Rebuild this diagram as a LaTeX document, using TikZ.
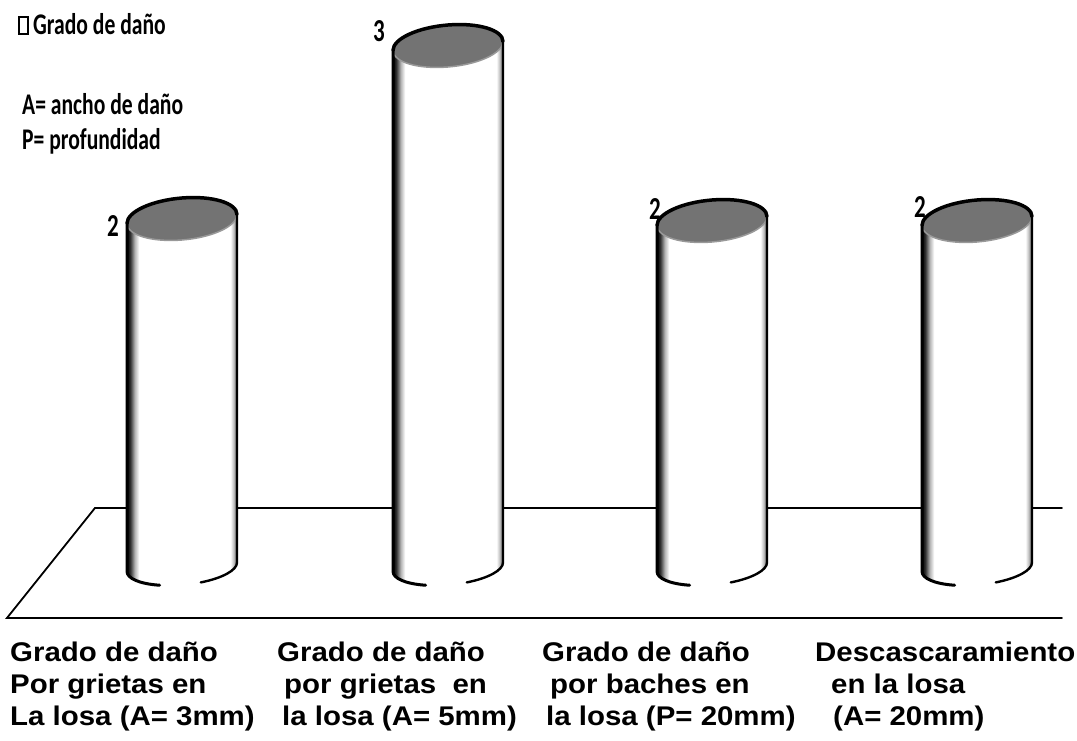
\documentclass[tikz,border=0pt]{standalone}
\usepackage{fontspec}
\setmainfont{Liberation Sans}
\newfontfamily\calfont[FakeStretch=0.72]{Carlito}
\newfontfamily\widefont[FakeStretch=1.09]{Liberation Sans}
\pgfdeclarehorizontalshading{cylbody}{100bp}{color(0bp)=(black); color(25bp)=(black); color(26.5bp)=(black!80); color(28.5bp)=(black!30); color(30.5bp)=(white); color(72bp)=(white); color(73.5bp)=(black!25); color(75bp)=(black!70); color(100bp)=(black!70)}
% #1 left x, #2 right x, #3 top centre y
\newcommand\drawcyl[3]{%
  \pgfmathsetmacro\cx{(#1+#2)/2}%
  \pgfmathsetmacro\rx{(#2-#1)/2}%
  \begin{scope}[shift={(\cx,0)}, yslant=0.08]
    \shade[shading=cylbody] (-\rx,#3) -- (-\rx,174)
      arc[start angle=180, end angle=360, x radius=\rx, y radius=18] -- (\rx,#3) -- cycle;
    \fill[topgray] (0,#3) ellipse[x radius=\rx, y radius=21];
    \draw[black!40, line width=1.5pt] (-\rx,#3) arc[start angle=180, end angle=360, x radius=\rx, y radius=21];
    \draw[cylrim] (-\rx,#3) arc[start angle=180, end angle=0, x radius=\rx, y radius=21];
    \draw[cylleft] (-\rx,#3) -- (-\rx,174)
      arc[start angle=180, end angle=246, x radius=\rx, y radius=18];
    \draw[cylright] (\rx,#3) -- (\rx,174)
      arc[start angle=360, end angle=290, x radius=\rx, y radius=18];
  \end{scope}}
\begin{document}
\begin{tikzpicture}[x=1pt,y=1pt,
  catlab/.style={font=\widefont\bfseries\fontsize{27}{30}\selectfont, inner sep=0pt, anchor=base west},
  leg/.style={font=\calfont\bfseries\fontsize{30}{30}\selectfont, inner sep=0pt, anchor=base west},
  num/.style={font=\calfont\bfseries\fontsize{32}{30}\selectfont, inner sep=0pt, anchor=base west},
  floorline/.style={line width=1.8pt, line cap=round},
  topgray/.style={fill=black!55},
  cylrim/.style={line width=3.5pt, line cap=round},
  cylleft/.style={line width=3pt, line cap=round},
  cylright/.style={line width=2.4pt, line cap=round}]
\useasboundingbox (0,0) rectangle (1077,741);
% floor
\coordinate (fbl) at (95,233);
\coordinate (fbr) at (1062,233);
\coordinate (ffl) at (7,123);
\coordinate (ffr) at (1062,123);
\draw[floorline] (fbr) -- (fbl) -- (ffl) -- (ffr);
% cylinders
\drawcyl{127}{237}{522}
\drawcyl{393}{503}{695}
\drawcyl{657}{767}{520}
\drawcyl{922}{1032}{520}
% values
\node[num] (v1) at (107,504) {2};
\node[num] (v2) at (373,699) {3};
\node[num] (v3) at (649,521) {2};
\node[num] (v4) at (914,523) {2};
% legend
\draw[line width=1.3pt] (19,707) rectangle (28,724);
\node[leg] (lg) at (33,706) {Grado de daño};
\node[leg] (la) at (22,626) {A= ancho de daño};
\node[leg] (lp) at (22,591) {P= profundidad};
% category labels
\node[catlab] (c1a) at (10,79) {Grado de daño};
\node[catlab] (c1b) at (10,47) {Por grietas en};
\node[catlab] (c1c) at (10,15) {La losa (A= 3mm)};
\node[catlab] (c2a) at (277,79) {Grado de daño};
\node[catlab] (c2b) at (284,47) {por grietas\ \ en};
\node[catlab] (c2c) at (282,15) {la losa (A= 5mm)};
\node[catlab] (c3a) at (542,79) {Grado de daño};
\node[catlab] (c3b) at (550,47) {por baches en};
\node[catlab] (c3c) at (546,15) {la losa (P= 20mm)};
\node[catlab] (c4a) at (815,79) {Descascaramiento};
\node[catlab] (c4b) at (831,47) {en la losa};
\node[catlab] (c4c) at (833,15) {(A= 20mm)};
\end{tikzpicture}
\end{document}
